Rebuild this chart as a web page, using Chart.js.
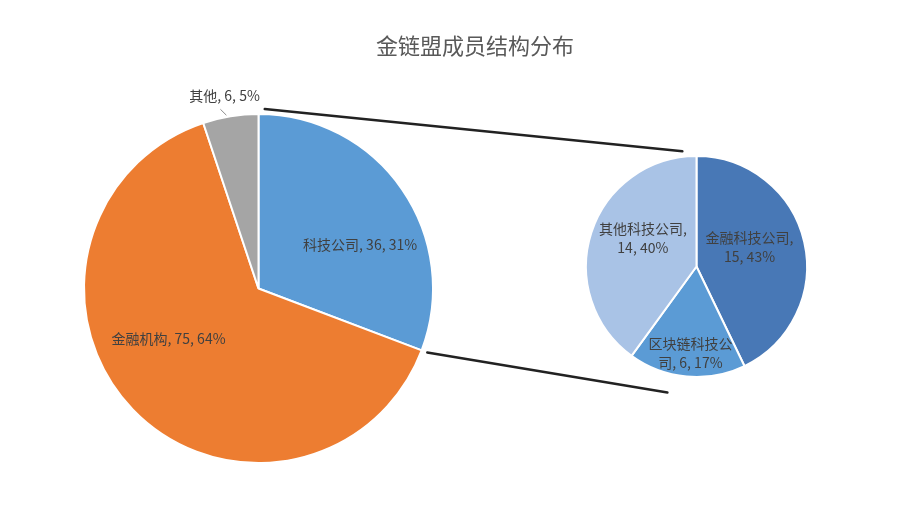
<!DOCTYPE html>
<html><head><meta charset="utf-8">
<script src="https://cdn.jsdelivr.net/npm/chart.js@4"></script>
<style>
html,body{margin:0;padding:0;background:#fff;}
#wrap{position:relative;width:909px;height:511px;overflow:hidden;background:#fff;}
#wrap canvas{position:absolute;left:0;top:0;}
#title{position:absolute;top:28px;left:0;width:950px;text-align:center;font:22px "Noto Sans CJK SC","Noto Sans",sans-serif;color:#595959;line-height:32px;}
</style></head>
<body>
<div id="wrap">
  <canvas id="c1" width="909" height="511"></canvas>
  <canvas id="c2" width="909" height="511"></canvas>
  <div id="title">金链盟成员结构分布</div>
</div>
<script>
// ---- data ----
const chartTitle = '金链盟成员结构分布';
const mainCategories = ['科技公司', '金融机构', '其他'];
const mainValues = [36, 75, 6];
const subCategories = ['金融科技公司', '区块链科技公司', '其他科技公司'];
const subValues = [15, 6, 14];

// ---- styles ----
const mainColors = ['#5b9bd5', '#ed7d31', '#a5a5a5'];
const subColors = ['#4878b6', '#5b9bd5', '#a9c3e6'];
const labelFont = '14px "Noto Sans CJK SC", "Noto Sans", sans-serif';
const labelColor = '#404040';
// label placement: fraction of radius, angle in degrees clockwise from top
const mainLabelPlacement = [{f: 0.634, a: 66.7}, {f: 0.59, a: 240.9}, {f: 1.12, a: 350, leader: [1.01, 1.05, 349.5]}];
const subLabelPlacement = [{f: 0.51, a: 70.3}, {f: 0.79, a: 184}, {f: 0.55, a: 298}];

function pct(v, arr) { const t = arr.reduce((a, b) => a + b, 0); return Math.round(v / t * 100) + '%'; }
function polar(arc, f, deg) {
  const th = (deg - 90) * Math.PI / 180;
  return {x: arc.x + arc.outerRadius * f * Math.cos(th), y: arc.y + arc.outerRadius * f * Math.sin(th)};
}
function polarRad(arc, r, th) { return {x: arc.x + r * Math.cos(th), y: arc.y + r * Math.sin(th)}; }

function wrapText(ctx, text, maxW) {
  const tokens = [];
  let buf = '';
  for (const ch of text) {
    if (/[\u4e00-\u9fff]/.test(ch)) { if (buf) { tokens.push(buf); buf = ''; } tokens.push(ch); }
    else { buf += ch; if (ch === ' ') { tokens.push(buf); buf = ''; } }
  }
  if (buf) tokens.push(buf);
  const lines = []; let line = '';
  for (const t of tokens) {
    const test = line + t;
    if (line && ctx.measureText(test.trimEnd()).width > maxW) { lines.push(line.trimEnd()); line = t; }
    else line = test;
  }
  if (line) lines.push(line.trimEnd());
  return lines;
}

function labelPlugin(cats, vals, placement, wrapW) {
  return {
    id: 'pieLabels',
    afterDatasetsDraw(chart) {
      const ctx = chart.ctx;
      const arcs = chart.getDatasetMeta(0).data;
      ctx.save();
      ctx.font = labelFont;
      ctx.fillStyle = labelColor;
      ctx.textAlign = 'center';
      ctx.textBaseline = 'middle';
      arcs.forEach((arc, i) => {
        const p = placement[i];
        const pos = polar(arc, p.f, p.a);
        const text = cats[i] + ', ' + vals[i] + ', ' + pct(vals[i], vals);
        const lines = wrapW ? wrapText(ctx, text, wrapW) : [text];
        const lh = 19;
        lines.forEach((ln, k) => ctx.fillText(ln, pos.x, pos.y + (k - (lines.length - 1) / 2) * lh));
        if (p.leader) {
          const a = polar(arc, p.leader[0], p.leader[2]);
          const b = polar(arc, p.leader[1], p.leader[2] - 1.5);
          ctx.strokeStyle = '#8c8c8c'; ctx.lineWidth = 1;
          ctx.beginPath(); ctx.moveTo(a.x, a.y); ctx.lineTo(b.x, b.y); ctx.stroke();
        }
      });
      ctx.restore();
    }
  };
}

const commonOpts = {
  responsive: false,
  animation: false,
  events: [],
  plugins: {legend: {display: false}, tooltip: {enabled: false}, title: {display: false}}
};

const chart1 = new Chart(document.getElementById('c1'), {
  type: 'pie',
  data: {labels: mainCategories, datasets: [{data: mainValues, backgroundColor: mainColors, borderColor: '#ffffff', borderWidth: 2}]},
  options: Object.assign({}, commonOpts, {layout: {padding: {left: 83, top: 113, right: 475, bottom: 47}}}),
  plugins: [labelPlugin(mainCategories, mainValues, mainLabelPlacement, 0)]
});

const connectorPlugin = {
  id: 'connectors',
  afterDatasetsDraw(chart) {
    const src = chart1.getDatasetMeta(0).data[0];
    const dst = chart.getDatasetMeta(0).data[0];
    const ctx = chart.ctx;
    const d2r = Math.PI / 180;
    const p1 = polarRad(src, src.outerRadius + 5, src.startAngle + 2 * d2r);
    const p2 = polarRad(src, src.outerRadius + 6, src.endAngle);
    const q1 = polar(dst, 1.05, -7);
    const q2 = polar(dst, 1.17, 193);
    ctx.save();
    ctx.strokeStyle = '#222222';
    ctx.lineWidth = 2.5;
    ctx.lineCap = 'round';
    ctx.beginPath(); ctx.moveTo(p1.x, p1.y); ctx.lineTo(q1.x, q1.y); ctx.stroke();
    ctx.beginPath(); ctx.moveTo(p2.x, p2.y); ctx.lineTo(q2.x, q2.y); ctx.stroke();
    ctx.restore();
  }
};

const chart2 = new Chart(document.getElementById('c2'), {
  type: 'pie',
  data: {labels: subCategories, datasets: [{data: subValues, backgroundColor: subColors, borderColor: '#ffffff', borderWidth: 2}]},
  options: Object.assign({}, commonOpts, {layout: {padding: {left: 585, top: 155, right: 101, bottom: 133}}}),
  plugins: [labelPlugin(subCategories, subValues, subLabelPlacement, 92), connectorPlugin]
});
</script>
</body></html>
